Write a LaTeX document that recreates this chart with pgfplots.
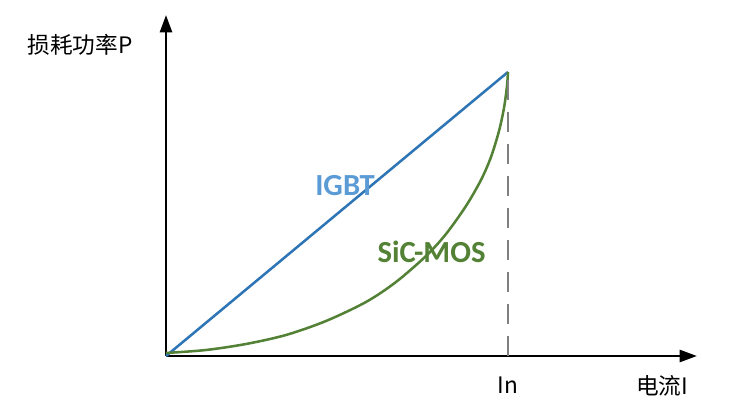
\documentclass[border=0pt]{standalone}
\usepackage{pgfplots}
\pgfplotsset{compat=1.18}
\usetikzlibrary{arrows.meta}
\usepackage{fontspec}
\setmainfont{Carlito}
\newfontfamily\cjk{Noto Sans CJK SC}
\definecolor{igbtline}{HTML}{2E75B6}
\definecolor{igbttext}{HTML}{5B9BD5}
\definecolor{sicgreen}{HTML}{538135}
\begin{document}
\begin{tikzpicture}
\path[use as bounding box] (-124.5pt,-46.5pt) rectangle (425.25pt,267pt);
\begin{axis}[
  at={(0,0)}, anchor=origin,
  x=0.75pt, y=0.75pt,
  axis lines=middle,
  xmin=0, xmax=531, ymin=0, ymax=341,
  xtick=\empty, ytick=\empty,
  axis line style={line width=2pt, -{Triangle[length=13pt,width=9pt]}},
  clip=false,
]
\addplot[igbtline, line width=1.9pt] coordinates {(0,0) (342,284)};
\addplot[sicgreen, line width=1.9pt, smooth, tension=0.5] coordinates {
(0,3) (40,6) (80,12) (120,21) (160,35) (200,54) (230,74) (260,100) (280,122) (300,150) (315,176) (325,199) (333,225) (338,248) (341,270) (342,284)};
\addplot[gray, line width=0.8pt, dash pattern=on 15pt off 9pt] coordinates {(342,0) (342,284)};
\node[text=igbttext, font=\fontsize{23}{26}\selectfont\bfseries] at (axis cs:179,170.5) {IGBT};
\node[text=sicgreen, font=\fontsize{23}{26}\selectfont\bfseries] at (axis cs:265.5,104) {SiC-MOS};
\node[font=\cjk\fontsize{17}{20}\selectfont] at (axis cs:342,-29) {In};
\node[font=\cjk\fontsize{17}{20}\selectfont] at (axis cs:496,-30) {电流I};
\node[font=\cjk\fontsize{17}{20}\selectfont] at (axis cs:-86,311) {损耗功率P};
\end{axis}
\end{tikzpicture}
\end{document}
